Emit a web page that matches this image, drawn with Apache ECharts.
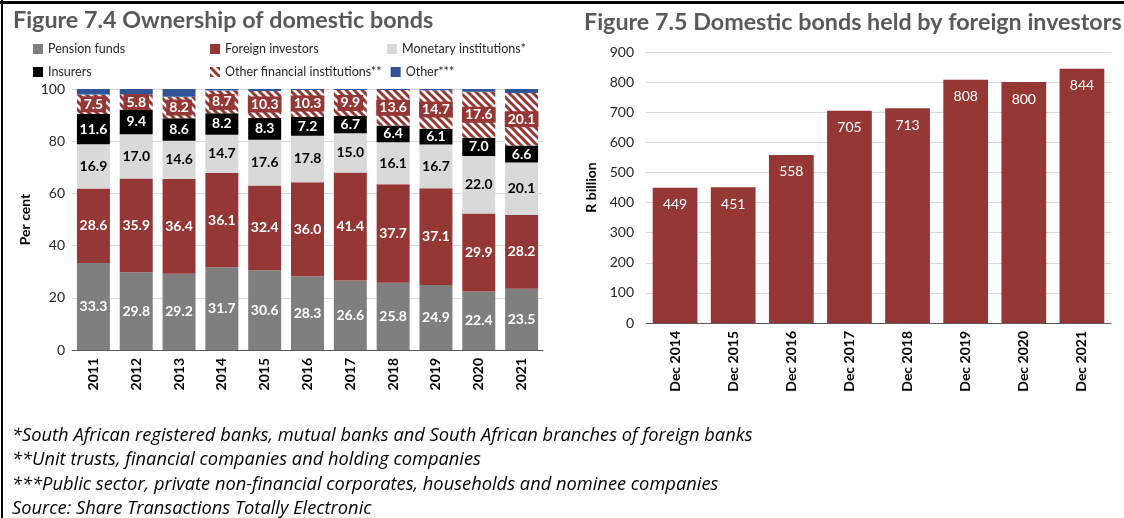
<!DOCTYPE html>
<html>
<head>
<meta charset="utf-8">
<script src="https://cdn.jsdelivr.net/npm/echarts@6/dist/echarts.min.js"></script>
<style>
html,body{margin:0;padding:0;background:#fff;}
#chart{width:1124px;height:518px;}
</style>
</head>
<body>
<div id="chart"></div>
<script>
// Figure 7.4 - ownership shares, per cent
var years=['2011','2012','2013','2014','2015','2016','2017','2018','2019','2020','2021'];
var pension=[33.3,29.8,29.2,31.7,30.6,28.3,26.6,25.8,24.9,22.4,23.5];
var foreign=[28.6,35.9,36.4,36.1,32.4,36.0,41.4,37.7,37.1,29.9,28.2];
var monetary=[16.9,17.0,14.6,14.7,17.6,17.8,15.0,16.1,16.7,22.0,20.1];
var insurers=[11.6,9.4,8.6,8.2,8.3,7.2,6.7,6.4,6.1,7.0,6.6];
var otherFin=[7.5,5.8,8.2,8.7,10.3,10.3,9.9,13.6,14.7,17.6,20.1];
var other=[2.1,2.1,3.0,0.6,0.8,0.4,0.4,0.4,0.5,1.1,1.5];
var pctTicks=[0,20,40,60,80,100];

// Figure 7.5 - R billion
var months=['Dec 2014','Dec 2015','Dec 2016','Dec 2017','Dec 2018','Dec 2019','Dec 2020','Dec 2021'];
var heldForeign=[449,451,558,705,713,808,800,844];

var notes=[
  '*South African registered banks, mutual banks and South African branches of foreign banks',
  '**Unit trusts, financial companies and holding companies',
  '***Public sector, private non-financial corporates, households and nominee companies',
  'Source: Share Transactions Totally Electronic'
];

var RED='#953735';
var FONT='Lato';

function hatch(){
  var c=document.createElement('canvas');
  c.width=8; c.height=8;
  var g=c.getContext('2d');
  g.fillStyle='#fff'; g.fillRect(0,0,8,8);
  g.strokeStyle=RED; g.lineWidth=3;
  g.beginPath();
  g.moveTo(-2,-2); g.lineTo(10,10);
  g.moveTo(-2,6); g.lineTo(2,10);
  g.moveTo(6,-2); g.lineTo(10,2);
  g.stroke();
  return c;
}

function lbl(col,extra){
  var o={show:true,position:'inside',color:col,fontFamily:FONT,fontWeight:'bold',fontSize:14,
    formatter:function(p){return p.value.toFixed(1);}};
  for(var k in extra) o[k]=extra[k];
  return o;
}

function stack(name,data,color,label){
  return {name:name,type:'bar',stack:'all',xAxisIndex:0,yAxisIndex:0,data:data,
    barCategoryGap:'23%',itemStyle:{color:color},label:label||{show:false},
    emphasis:{disabled:true}};
}

var tickStyle={color:'#262626',fontFamily:FONT,fontSize:14};
var catStyle={color:'#000',fontFamily:FONT,fontWeight:'bold',fontSize:14,rotate:90,margin:8};

var graphics=[
  {type:'line',shape:{x1:0,y1:2.5,x2:1124,y2:2.5},style:{stroke:'#000',lineWidth:3}},
  {type:'line',shape:{x1:2,y1:0,x2:2,y2:518},style:{stroke:'#000',lineWidth:2}}
];
for(var i=0;i<notes.length;i++){
  graphics.push({type:'text',left:12,top:427+i*24.2,
    style:{text:notes[i],fill:'#000',font:'italic 18.3px "Open Sans"'}});
}

var option={
  animation:false,
  title:[
    {text:'Figure 7.4 Ownership of domestic bonds',left:8,top:4,
      textStyle:{color:'#595959',fontFamily:FONT,fontWeight:'bold',fontSize:23.3}},
    {text:'Figure 7.5 Domestic bonds held by foreign investors',left:579,top:6,
      textStyle:{color:'#595959',fontFamily:FONT,fontWeight:'bold',fontSize:23.3}}
  ],
  legend:{left:28,top:37,width:540,icon:'rect',itemWidth:10,itemHeight:10,itemGap:9,
    data:['Pension funds','Foreign investors','Monetary institutions*','Insurers','Other financial institutions**','Other***'],
    textStyle:{fontFamily:FONT,fontSize:12.5,color:'#262626',width:153,lineHeight:14}},
  grid:[
    {left:72,right:581,top:89,bottom:168},
    {left:646,right:13,top:52,bottom:195}
  ],
  xAxis:[
    {gridIndex:0,type:'category',data:years,axisTick:{show:false},
      axisLine:{lineStyle:{color:'#595959'}},axisLabel:catStyle},
    {gridIndex:1,type:'category',data:months,axisTick:{show:false},
      axisLine:{lineStyle:{color:'#595959'}},axisLabel:catStyle}
  ],
  yAxis:[
    {gridIndex:0,type:'value',min:pctTicks[0],max:pctTicks[pctTicks.length-1],interval:20,
      name:'Per cent',nameLocation:'middle',nameGap:40,
      nameTextStyle:{fontFamily:FONT,fontWeight:'bold',fontSize:14,color:'#000'},
      axisLabel:{...tickStyle,margin:7},axisLine:{show:false},axisTick:{show:false},
      splitLine:{lineStyle:{color:'#d9d9d9'}}},
    {gridIndex:1,type:'value',min:0,max:900,interval:100,
      name:'R billion',nameLocation:'middle',nameGap:48,
      nameTextStyle:{fontFamily:FONT,fontWeight:'bold',fontSize:14,color:'#000'},
      axisLabel:{...tickStyle,margin:12},axisLine:{show:false},axisTick:{show:false},
      splitLine:{lineStyle:{color:'#d9d9d9'}}}
  ],
  series:[
    stack('Pension funds',pension,'#7f7f7f',lbl('#fff')),
    stack('Foreign investors',foreign,RED,lbl('#fff')),
    stack('Monetary institutions*',monetary,'#d9d9d9',lbl('#000')),
    stack('Insurers',insurers,'#000',lbl('#fff')),
    stack('Other financial institutions**',otherFin,{image:hatch(),repeat:'repeat'},
      lbl('#fff',{backgroundColor:RED,padding:[2,3,0,3]})),
    stack('Other***',other,'#2f5597'),
    {name:'held',type:'bar',xAxisIndex:1,yAxisIndex:1,data:heldForeign,barCategoryGap:'23%',
      itemStyle:{color:RED},emphasis:{disabled:true},
      label:{show:true,position:'insideTop',distance:10,color:'#fff',fontFamily:FONT,fontSize:14}}
  ],
  graphic:graphics
};

var mychart=echarts.init(document.getElementById('chart'));
mychart.setOption(option);
</script>
</body>
</html>
